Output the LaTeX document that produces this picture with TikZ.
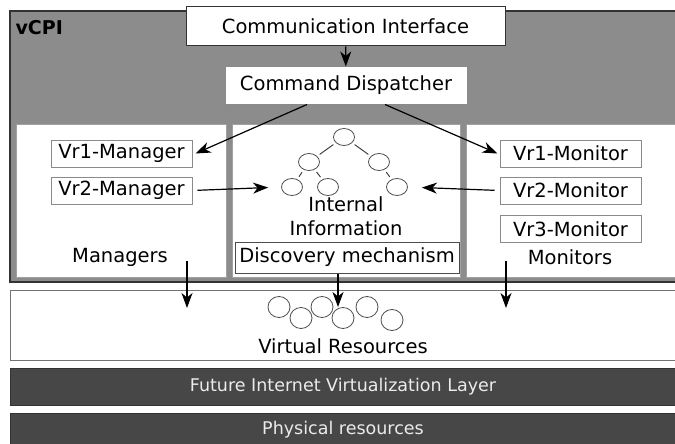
\documentclass[tikz,border=0pt]{standalone}
\usepackage{fontspec}
\setmainfont{DejaVu Sans}
\usetikzlibrary{arrows.meta,shapes.geometric,calc}
\definecolor{vcpigray}{HTML}{8C8C8C}
\definecolor{layergray}{HTML}{474747}
\definecolor{edgegray}{HTML}{8A8A8A}
\tikzset{
  unit/.style={draw=edgegray,fill=white,line width=1pt,minimum width=141pt,minimum height=27pt,inner sep=0pt},
  panel/.style={draw=edgegray!80,fill=white,line width=1pt},
  info/.style={draw=black!70,fill=white,ellipse,minimum width=21pt,minimum height=17pt,inner sep=0pt,line width=0.8pt},
  res/.style={draw=black!70,fill=white,ellipse,minimum width=22pt,minimum height=21pt,inner sep=0pt,line width=0.8pt},
  flow/.style={-{Stealth[length=15pt,width=11pt,inset=4.5pt]},line width=1.2pt},
  link/.style={line width=0.9pt,black!80,shorten <=3pt,shorten >=3pt},
  layer/.style={fill=layergray,draw=black!80,line width=1pt}
}
\begin{document}
\begin{tikzpicture}[x=1pt,y=-1pt,font=\fontsize{19.5}{24}\selectfont]
\useasboundingbox (0,0) rectangle (675,444);

% vCPI block
\fill[vcpigray] (10,11) rectangle (676,283);
\draw[black!80,line width=1.2pt] (676,11) -- (10,11) -- (10,283);
\draw[black!80,line width=2.5pt] (10,282) -- (676,282);
\node[anchor=west,font=\fontsize{19}{22}\selectfont\bfseries] (vcpi) at (12,28) {vCPI};
\draw[panel] (16,124) rectangle (226,277);
\draw[panel] (232,124) rectangle (460,277);
\fill[white] (466,124) rectangle (676,277);
\draw[edgegray!80,line width=1pt] (676,124) -- (466,124) -- (466,277) -- (676,277);

\node[draw=black!80,fill=white,line width=1pt,minimum width=319pt,minimum height=39pt] (comm) at (345.5,26.5) {Communication Interface};
\node[draw=edgegray,fill=white,line width=1pt,minimum width=242pt,minimum height=37pt] (disp) at (346,85.5) {Command Dispatcher};

% managers
\node[unit] (vr1m) at (121.5,153.5) {Vr1-Manager};
\node[unit] (vr2m) at (121.5,190.5) {Vr2-Manager};
\node (mgrs) at (120,257) {Managers};

% monitors
\node[unit] (vr1n) at (570.5,153.5) {Vr1-Monitor};
\node[unit] (vr2n) at (570.5,190.5) {Vr2-Monitor};
\node[unit] (vr3n) at (570.5,229) {Vr3-Monitor};
\node (mons) at (570,257) {Monitors};

% internal information
\node[info] (root) at (344,137) {};
\node[info] (l) at (309,162) {};
\node[info] (r) at (379,162) {};
\node[info] (ll) at (292,187) {};
\node[info] (lr) at (328,187) {};
\node[info] (rr) at (397,187) {};
\draw[link] (root) -- (l);
\draw[link] (root) -- (r);
\draw[link] (l) -- (ll);
\draw[link] (l) -- (lr);
\draw[link] (r) -- (rr);
\node[align=center,inner sep=0pt] (intinfo) at (346,216) {Internal\\Information};
\node[draw=black!70,fill=white,line width=1pt,minimum width=224pt,minimum height=31pt,inner sep=0pt] (disc) at (347,257.5) {Discovery mechanism};

% virtual resources
\fill[white] (10,290) rectangle (676,360);
\draw[black!55,line width=1pt] (676,290) -- (10,290) -- (10,360) -- (676,360);
\node[res] (vres1) at (279,307) {};
\node[res] (vres2) at (301,318) {};
\node[res] (vres3) at (322,307) {};
\node[res] (vres4) at (343,318) {};
\node[res] (vres5) at (367,307) {};
\node[res] (vres6) at (392,320) {};
\node (vreslbl) at (343,346) {Virtual Resources};

% lower layers
\fill[layergray] (10,368) rectangle (676,405);
\draw[black!80,line width=1pt] (676,368) -- (10,368) -- (10,405) -- (676,405);
\node[text=white!92!black,font=\fontsize{17.5}{20}\selectfont] (fivl) at (343,386.5) {Future Internet Virtualization Layer};
\fill[layergray] (10,413) rectangle (676,445);
\draw[black!80,line width=1pt] (676,413) -- (10,413) -- (10,445);
\node[text=white!92!black,font=\fontsize{17.5}{20}\selectfont] (phys) at (343,430) {Physical resources};

% connectors
\coordinate (mgrout) at (187,261);
\coordinate (mgrin) at (187,308);
\coordinate (monout) at (506,261);
\coordinate (monin) at (506,308);
\coordinate (discin) at (338,307);
\draw[flow] (comm) -- (disp);
\draw[flow] ([xshift=-39pt]disp.south) -- ([xshift=3pt]vr1m.east);
\draw[flow] ([xshift=39pt]disp.south) -- ([xshift=-2pt]vr1n.west);
\draw[flow,shorten <=5pt,shorten >=13pt] (vr2m.east) -- (ll.west);
\draw[flow,shorten <=5pt,shorten >=14pt] (vr2n.west) -- (rr.east);
\draw[flow] (mgrout) -- (mgrin);
\draw[flow] (disc.south -| discin) -- (discin);
\draw[flow] (monout) -- (monin);
\end{tikzpicture}
\end{document}
